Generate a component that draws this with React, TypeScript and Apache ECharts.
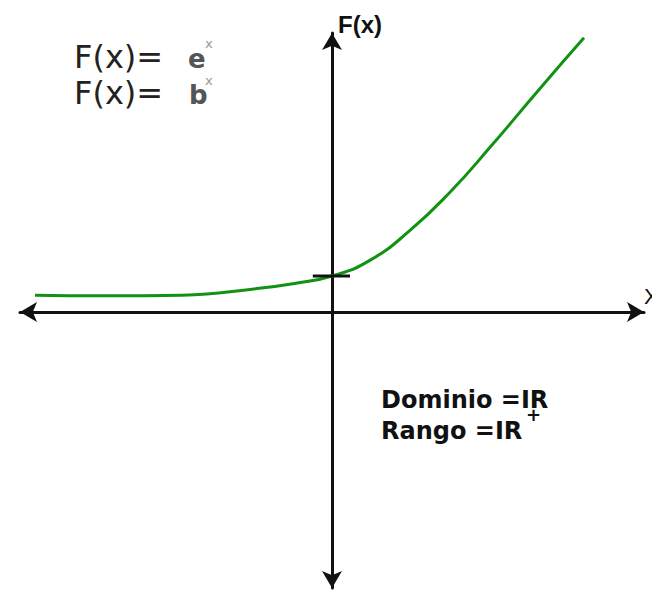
import React, { useEffect, useRef } from "react";
import * as echarts from "echarts";

// Curve F(x) = b^x as drawn (x, y in axis units)
const curveX = [-4.95, -3.8, -2.5, -1.25, -0.6, 0, 0.63, 1.3, 1.97, 2.63, 3.47, 4.2];
const curveY = [0.28, 0.27, 0.28, 0.39, 0.48, 0.6, 0.86, 1.36, 2.0, 2.74, 3.73, 4.57];

// Tick mark at F(0)
const tickX = [-0.32, 0.3];
const tickY = [0.6, 0.6];

// Axis extents
const xRange = [-5.2, 5.2];
const yRange = [-4.6, 4.65];

export default function App() {
  const ref = useRef<HTMLDivElement>(null);
  useEffect(() => {
    if (!ref.current) return;
    const chart = echarts.init(ref.current, null, { renderer: "svg" });
    const axisLine = {
      show: true,
      onZero: true,
      symbol: ["arrow", "arrow"],
      symbolSize: [15, 17],
      lineStyle: { color: "#111", width: 3 },
    };
    const hidden = {
      axisTick: { show: false },
      axisLabel: { show: false },
      splitLine: { show: false },
    };
    chart.setOption({
      animation: false,
      backgroundColor: "#fff",
      grid: { left: 20, top: 33, width: 624, height: 555, containLabel: false },
      xAxis: { type: "value", min: xRange[0], max: xRange[1], axisLine, ...hidden },
      yAxis: { type: "value", min: yRange[0], max: yRange[1], axisLine, ...hidden },
      series: [
        {
          type: "line",
          data: curveX.map((x, i) => [x, curveY[i]]),
          smooth: 0.5,
          showSymbol: false,
          lineStyle: { color: "#129212", width: 3 },
          z: 3,
        },
        {
          type: "line",
          data: tickX.map((x, i) => [x, tickY[i]]),
          showSymbol: false,
          lineStyle: { color: "#111", width: 3 },
          z: 4,
        },
      ],
      graphic: [
        { type: "text", x: 74, y: 57, style: { text: "F(x)=", font: '32px "DejaVu Sans"', fill: "#222", verticalAlign: "middle" } },
        { type: "text", x: 74, y: 93, style: { text: "F(x)=", font: '32px "DejaVu Sans"', fill: "#222", verticalAlign: "middle" } },
        { type: "text", x: 188, y: 59, style: { text: "e", font: 'bold 26px "DejaVu Sans"', fill: "#555", verticalAlign: "middle" } },
        { type: "text", x: 205, y: 43, style: { text: "x", font: '13px "DejaVu Sans"', fill: "#999", verticalAlign: "middle" } },
        { type: "text", x: 189, y: 95, style: { text: "b", font: 'bold 26px "DejaVu Sans"', fill: "#555", verticalAlign: "middle" } },
        { type: "text", x: 205, y: 80, style: { text: "x", font: '13px "DejaVu Sans"', fill: "#999", verticalAlign: "middle" } },
        { type: "text", x: 338, y: 24, style: { text: "F(x)", font: 'bold 24px "Liberation Sans"', fill: "#111", verticalAlign: "middle" } },
        { type: "text", x: 644, y: 296, style: { text: "X", font: '22px "Liberation Sans"', fill: "#111", verticalAlign: "middle" } },
        { type: "text", x: 381, y: 400, style: { text: "Dominio =IR", font: 'bold 24px "DejaVu Sans"', fill: "#111", verticalAlign: "middle" } },
        { type: "text", x: 381, y: 431, style: { text: "Rango =IR", font: 'bold 24px "DejaVu Sans"', fill: "#111", verticalAlign: "middle" } },
        { type: "text", x: 526, y: 414, style: { text: "+", font: 'bold 18px "DejaVu Sans"', fill: "#111", verticalAlign: "middle" } },
      ],
    });
    return () => chart.dispose();
  }, []);
  return <div ref={ref} style={{ position: "fixed", left: 0, top: 0, width: 652, height: 596 }} />;
}
